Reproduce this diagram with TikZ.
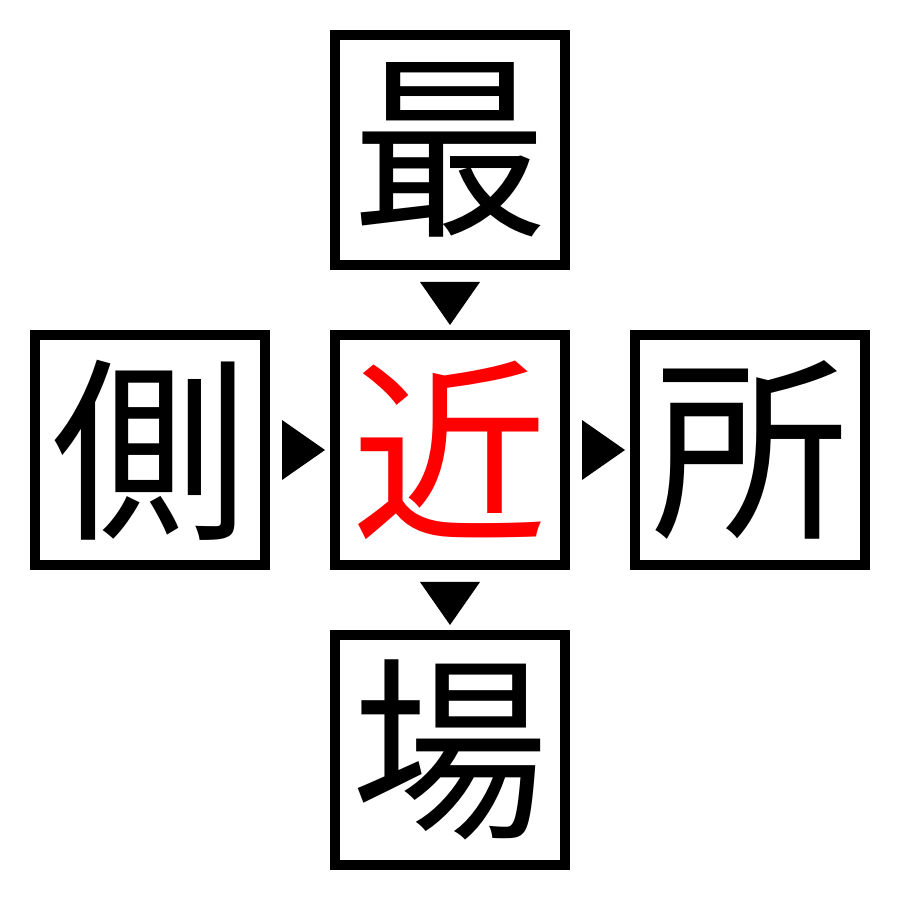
\documentclass[tikz,border=0pt]{standalone}
\usepackage{fontspec}
\newfontfamily\jp{Noto Sans CJK JP}
\usetikzlibrary{positioning,calc}

\tikzset{
  kanji/.style={draw, line width=1mm, minimum size=2.3cm, inner sep=0pt,
    font=\jp\fontsize{56}{56}\selectfont},
  node distance=0.6cm
}

\begin{document}
\begin{tikzpicture}
\useasboundingbox (0,0) rectangle (9,9);

\node[kanji, text=red] (mid) at (4.5,4.5) {近};
\node[kanji, above=of mid] (top) {最};
\node[kanji, below=of mid] (bot) {場};
\node[kanji, left=of mid] (lft) {側};
\node[kanji, right=of mid] (rgt) {所};

% arrow marks between the boxes
\fill[black] ($(top.south)+(-0.3,-0.12)$) -- ($(top.south)+(0.3,-0.12)$) -- ($(mid.north)+(0,0.05)$) -- cycle;
\fill[black] ($(mid.south)+(-0.3,-0.12)$) -- ($(mid.south)+(0.3,-0.12)$) -- ($(bot.north)+(0,0.05)$) -- cycle;
\fill[black] ($(lft.east)+(0.12,0.3)$) -- ($(lft.east)+(0.12,-0.3)$) -- ($(mid.west)+(-0.05,0)$) -- cycle;
\fill[black] ($(mid.east)+(0.12,0.3)$) -- ($(mid.east)+(0.12,-0.3)$) -- ($(rgt.west)+(-0.05,0)$) -- cycle;
\end{tikzpicture}
\end{document}
